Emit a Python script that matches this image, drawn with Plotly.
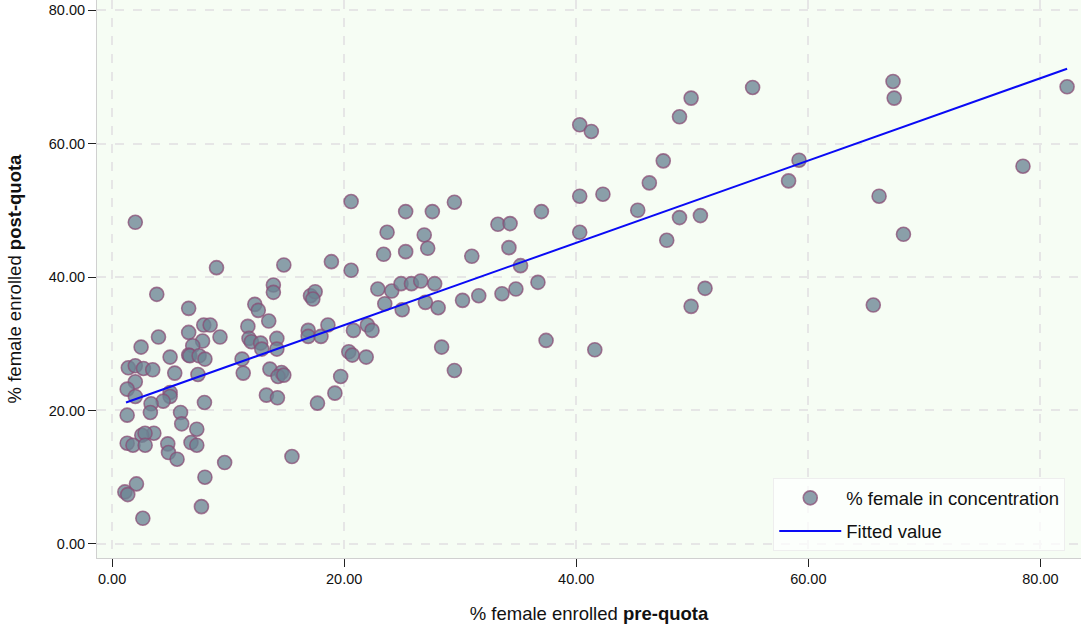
import plotly.graph_objects as go

# % female enrolled pre-quota (x) and post-quota (y)
pre_quota = [
    2.0, 9.0, 3.85, 6.6, 7.9, 8.45, 4.0, 6.6, 7.8, 9.3, 2.5, 6.95, 5.0, 6.6, 6.7, 7.5, 8.0,
    1.4, 2.0, 2.7, 3.5, 5.4, 7.4, 2.0, 1.3, 2.0, 5.0, 5.0, 4.4, 3.36, 3.3, 7.96, 1.3, 5.9,
    6.0, 7.3, 3.6, 2.56, 2.84, 1.3, 1.8, 2.85, 4.8, 6.8, 7.3, 4.86, 5.6, 8.0, 2.1, 1.1, 1.35,
    2.65, 7.7, 9.7,
    14.8, 18.9, 13.9, 13.9, 17.1, 17.5, 17.3, 12.3, 12.6, 13.5, 11.7, 11.8, 12.0, 12.8, 12.9,
    14.2, 14.2, 11.2, 11.3, 13.6, 14.6, 14.3, 14.8, 13.3, 14.25, 16.9, 16.9, 18.0, 18.6, 19.2,
    17.7, 15.5, 19.7,
    20.6, 25.3, 27.6, 29.5, 23.7, 26.9, 27.2, 23.4, 25.3, 31.0, 20.6, 22.9, 24.1, 24.9, 25.8,
    26.6, 27.8, 23.5, 25.0, 27.0, 28.1, 30.2, 20.8, 22.0, 22.4, 20.4, 20.7, 21.9, 28.4, 29.5,
    40.3, 41.3, 40.3, 42.3, 37.0, 33.25, 34.3, 34.2, 40.3, 35.2, 31.6, 33.6, 34.8, 36.7, 37.4,
    41.6,
    55.2, 49.9, 48.9, 67.3, 67.4, 82.3, 47.5, 46.3, 45.3, 48.9, 50.7, 47.8, 59.2, 58.3, 78.5,
    66.1, 68.2, 51.1, 49.9, 65.6,
]
post_quota = [
    48.2, 41.4, 37.4, 35.3, 32.8, 32.8, 31.0, 31.7, 30.4, 31.0, 29.5, 29.7, 28.0, 28.3, 28.2,
    28.2, 27.7, 26.4, 26.7, 26.3, 26.1, 25.6, 25.4, 24.3, 23.2, 22.1, 22.7, 22.1, 21.4, 21.0,
    19.7, 21.2, 19.3, 19.7, 18.0, 17.2, 16.6, 16.3, 16.6, 15.1, 14.8, 14.8, 15.0, 15.2, 14.8,
    13.7, 12.7, 10.0, 9.0, 7.8, 7.4, 3.85, 5.6, 12.2,
    41.8, 42.3, 38.8, 37.7, 37.2, 37.8, 36.7, 35.9, 35.0, 33.4, 32.6, 30.8, 30.3, 30.1, 29.2,
    30.8, 29.2, 27.7, 25.6, 26.2, 25.7, 25.1, 25.3, 22.3, 21.9, 32.0, 31.1, 31.1, 32.8, 22.6,
    21.1, 13.1, 25.1,
    51.3, 49.8, 49.8, 51.2, 46.7, 46.3, 44.3, 43.4, 43.8, 43.1, 41.0, 38.2, 37.9, 39.0, 39.0,
    39.4, 39.0, 36.0, 35.1, 36.2, 35.4, 36.5, 32.0, 32.8, 32.0, 28.8, 28.3, 28.0, 29.5, 26.0,
    62.8, 61.8, 52.1, 52.4, 49.8, 47.9, 48.0, 44.4, 46.7, 41.7, 37.2, 37.5, 38.2, 39.2, 30.5,
    29.1,
    68.4, 66.8, 64.0, 69.3, 66.8, 68.5, 57.4, 54.1, 50.0, 48.9, 49.2, 45.5, 57.5, 54.4, 56.6,
    52.1, 46.4, 38.3, 35.6, 35.8,
]

# Fitted line end points
fit_x = [1.2, 82.3]
fit_y = [21.2, 71.2]

tick_vals = [0, 20, 40, 60, 80]
tick_text = ["0.00", "20.00", "40.00", "60.00", "80.00"]

FONT = "Liberation Sans, Arial, Helvetica, sans-serif"

fig = go.Figure()
fig.add_trace(go.Scatter(
    x=pre_quota, y=post_quota, mode="markers",
    name="% female in concentration",
    legendgroup="a",
    marker=dict(size=14, color="rgba(108,132,148,0.78)",
                line=dict(color="rgba(138,78,118,0.75)", width=1.6)),
))
fig.add_trace(go.Scatter(
    x=fit_x, y=fit_y, mode="lines", name="Fitted value",
    legendgroup="b",
    line=dict(color="#0a0af5", width=2),
))

axis_common = dict(
    tickvals=tick_vals, ticktext=tick_text,
    showgrid=True, gridcolor="#e6e6e6", griddash="dash", gridwidth=1.5,
    zeroline=False, showline=True, linecolor="#d0d0d0", linewidth=1,
    ticks="outside", ticklen=8, tickcolor="#222222", tickwidth=1,
    tickfont=dict(size=14.5, color="#111111", family=FONT),
)

fig.update_layout(
    width=1081, height=628,
    margin=dict(l=97, r=0, t=0, b=70),
    paper_bgcolor="white", plot_bgcolor="#f6fdf4",
    font=dict(family=FONT, color="#111111"),
    xaxis=dict(range=[-1.3, 83.5],
               title=dict(text="% female enrolled <b>pre-quota</b>",
                          font=dict(size=18.5), standoff=20),
               **axis_common),
    yaxis=dict(range=[-2.1, 81.5],
               title=dict(text="% female enrolled <b>post-quota</b>",
                          font=dict(size=18.5), standoff=22),
               **axis_common),
    legend=dict(x=0.984, y=0.012, xanchor="right", yanchor="bottom",
                bgcolor="rgba(255,255,255,0.7)", bordercolor="#eeeeee", borderwidth=1,
                font=dict(size=18.5, family=FONT, color="#111111"),
                traceorder="grouped", tracegroupgap=6, itemwidth=62),
    showlegend=True,
)

fig.write_html("out.html")
